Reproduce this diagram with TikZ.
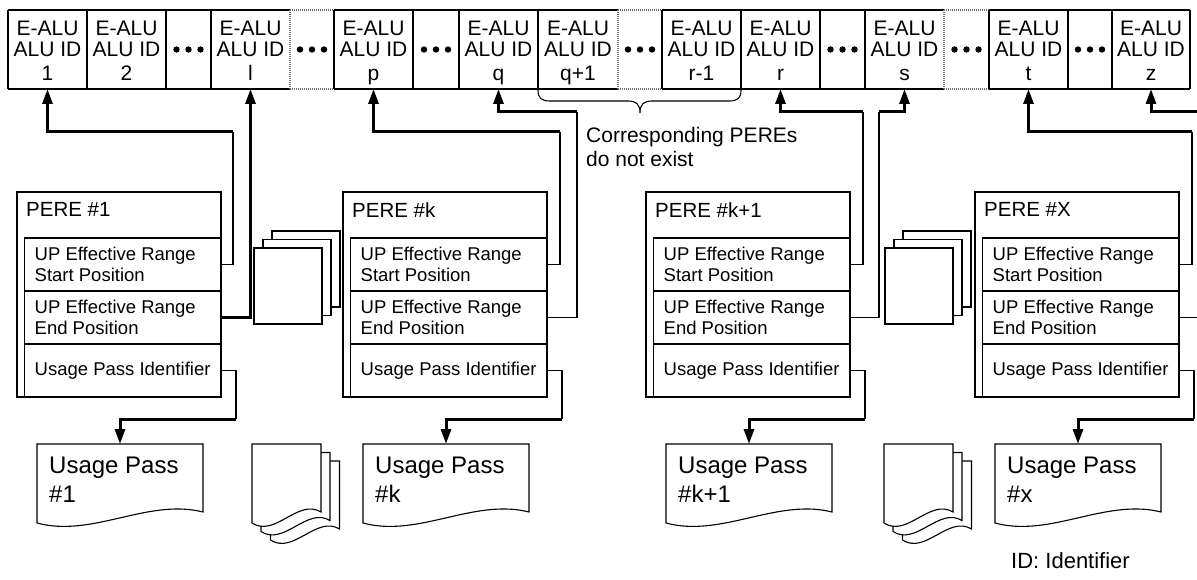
\documentclass[tikz,border=0pt]{standalone}
\usepackage{fontspec}
\setmainfont{Liberation Sans}
\usetikzlibrary{arrows.meta}
% ALU cell: name, centre x, label
\newcommand\alucell[3]{%
  \node[cellbox] (#1) at (#2,49.5) {};
  \node[celltext] (#1t) at (#2,21) {E-ALU\\ALU ID\\[3pt]#3};}
% PERE block: name, left x, label
\newcommand\perex[3]{%
  \node[perebox] (#1) at (#2,192) {};
  \node[peretext] (#1t) at (#2+9,202) {#3};
  \node[rowbox] (#1s) at (#2+7.5,238) {};
  \node[rowbox] (#1e) at (#2+7.5,291) {};
  \node[rowbox] (#1u) at (#2+7.5,344) {};
  \node[rowtext] (#1st) at (#2+17.5,247) {UP Effective Range\\Start Position};
  \node[rowtext] (#1et) at (#2+17.5,300) {UP Effective Range\\End Position};
  \node[rowtext] (#1ut) at (#2+17.5,362) {Usage Pass Identifier};}
% document outline: x, y, width
\newcommand\docout[3]{%
  \draw[ln,fill=white] (#1,#2) -- (#1+#3,#2) -- (#1+#3,#2+68)
    .. controls (#1+0.667*#3,#2+54) and (#1+0.333*#3,#2+94) .. (#1,#2+79) -- cycle;}
% usage pass document: name, x, label
\newcommand\usagedoc[3]{%
  \docout{#1}{444}{166}%
  \node[docbox] (#2) at (#1,444) {};
  \node[doctext] (#2t) at (#1+12,457) {Usage Pass\\#3};}
\newcommand\docstack[2]{%
  \docout{#1+18.5}{#2+17}{69}\docout{#1+9}{#2+8.5}{69}\docout{#1}{#2}{69}}
\newcommand\pagestack[2]{%
  \draw[ln,fill=white] (#1+18,#2-17) rectangle ++(68,76);
  \draw[ln,fill=white] (#1+9,#2-8.5) rectangle ++(68,76);
  \draw[ln,fill=white] (#1,#2) rectangle ++(68,76);}
\begin{document}
\begin{tikzpicture}[x=1pt,y=-1pt,
  ln/.style={line width=1.1pt},
  thn/.style={line width=1.1pt},
  thk/.style={line width=3pt,-{Triangle[length=15pt,width=10pt]}},
  dotln/.style={line width=1.1pt,black!55,dash pattern=on 1pt off 1pt},
  cellbox/.style={minimum width=79pt,minimum height=79pt,inner sep=0pt,outer sep=0pt},
  celltext/.style={align=center,inner sep=0pt,anchor=north,font=\fontsize{21}{21}\selectfont},
  perebox/.style={draw,line width=1.1pt,fill=white,minimum width=204pt,minimum height=205pt,anchor=north west,inner sep=0pt,outer sep=0pt},
  rowbox/.style={draw,line width=1.1pt,fill=white,minimum width=196.5pt,minimum height=53pt,anchor=north west,inner sep=0pt,outer sep=0pt},
  peretext/.style={anchor=north west,inner sep=0pt,font=\fontsize{20.5}{20.5}\selectfont},
  rowtext/.style={anchor=north west,align=left,inner sep=0pt,font=\fontsize{18.5}{21}\selectfont},
  docbox/.style={minimum width=166pt,minimum height=68pt,anchor=north west,inner sep=0pt,outer sep=0pt},
  doctext/.style={anchor=north west,align=left,inner sep=0pt,font=\fontsize{24}{29}\selectfont},
  note/.style={anchor=north west,align=left,inner sep=0pt,font=\fontsize{21}{24}\selectfont}]
\useasboundingbox (0,0) rectangle (1197,580);
\clip (0,0) rectangle (1197,580);
\fill[white] (0,0) rectangle (1197,580);

% ---- top row of E-ALUs ----
\foreach \yy in {10,89} {
  \draw[ln] (8,\yy) -- (290,\yy) (334,\yy) -- (618,\yy) (662,\yy) -- (944,\yy) (989,\yy) -- (1190,\yy);
  \draw[dotln] (290,\yy) -- (334,\yy) (618,\yy) -- (662,\yy) (944,\yy) -- (989,\yy);}
\foreach \xx in {8,87,166,211,334,413,459,538,662,741,820,865,989,1068,1112,1190}
  \draw[ln] (\xx,10) -- (\xx,89);
\foreach \xx in {290,618,944}
  \draw[dotln] (\xx,10) -- (\xx,89);
\foreach \cx in {188.5,312,436,640,842.5,966.5,1090} {
  \fill (\cx-12,49.5) circle[radius=3.2pt];
  \fill (\cx,49.5) circle[radius=3.2pt];
  \fill (\cx+12,49.5) circle[radius=3.2pt];}
\alucell{c1}{47.5}{1}
\alucell{c2}{126.5}{2}
\alucell{cl}{250.5}{l}
\alucell{cp}{373.5}{p}
\alucell{cq}{498.5}{q}
\alucell{cqa}{578}{q+1}
\alucell{crm}{701.5}{r-1}
\alucell{cr}{780.5}{r}
\alucell{cs}{904.5}{s}
\alucell{ct}{1028.5}{t}
\alucell{cz}{1151}{z}

% brace and note
\draw[ln] (538,90) .. controls (538,98) and (541,101) .. (550,101) -- (628,101)
  .. controls (636,101) and (640,104) .. (640,113)
  .. controls (640,104) and (644,101) .. (652,101) -- (729,101)
  .. controls (738,101) and (741,98) .. (741,90);
\node[note] (nonexist) at (586,127) {Corresponding PEREs\\do not exist};

% ---- PEREs ----
\perex{P1}{17}{PERE \#1}
\perex{Pk}{343}{PERE \#k}
\perex{Pka}{646}{PERE \#k+1}
\perex{PX}{975}{PERE \#X}
\pagestack{254}{248}
\pagestack{885}{248}

% ---- usage passes ----
\usagedoc{37}{d1}{\#1}
\usagedoc{363}{dk}{\#k}
\usagedoc{666}{dka}{\#k+1}
\usagedoc{995}{dX}{\#x}
\docstack{252}{444}
\docstack{884}{444}

\node[note,font=\fontsize{22}{22}\selectfont] (idnote) at (1011,552) {ID: Identifier};

% ---- connectors ----
\coordinate (a1) at (233,132);
\coordinate (a3) at (236,419);
\draw[thn] (P1s.east) -| (a1);
\draw[thk] (a1) -| (c1.south);
\draw[thk] (P1e.east) -| (cl.south);
\draw[thn] (P1u.east) -| (a3);
\draw[thk] (a3) -| (d1.north);

\coordinate (k1) at (560,132);
\coordinate (k2) at (577,112);
\coordinate (k3) at (562,419);
\draw[thn] (Pks.east) -| (k1);
\draw[thk] (k1) -| (cp.south);
\draw[thn] (Pke.east) -| (k2);
\draw[thk] (k2) -| (cq.south);
\draw[thn] (Pku.east) -| (k3);
\draw[thk] (k3) -| (dk.north);

\coordinate (m1) at (863,112);
\coordinate (m2) at (879,112);
\coordinate (m3) at (865,419);
\draw[thn] (Pkas.east) -| (m1);
\draw[thk] (m1) -| (cr.south);
\draw[thn] (Pkae.east) -| (m2);
\draw[thk] (m2) -| (cs.south);
\draw[thn] (Pkau.east) -| (m3);
\draw[thk] (m3) -| (dka.north);

\coordinate (x1) at (1192,132);
\coordinate (x2) at (1212,112);
\coordinate (x3) at (1194,419);
\draw[thn] (PXs.east) -| (x1);
\draw[thk] (x1) -| (ct.south);
\draw[thn] (PXe.east) -| (x2);
\draw[thk] (x2) -| (cz.south);
\draw[thn] (PXu.east) -| (x3);
\draw[thk] (x3) -| (dX.north);
\end{tikzpicture}
\end{document}
